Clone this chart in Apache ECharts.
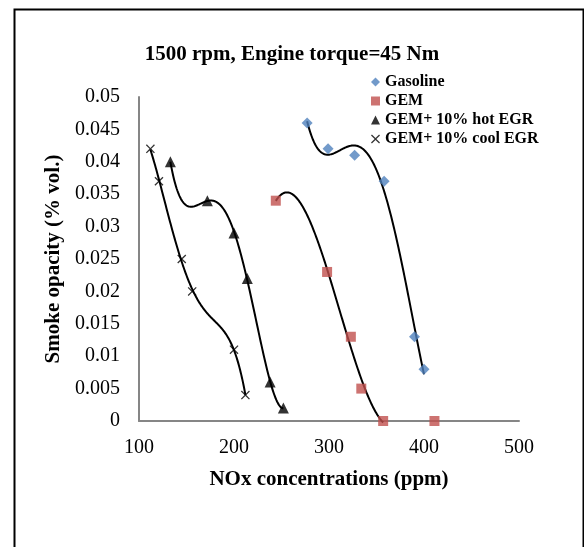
<!DOCTYPE html>
<html>
<head>
<meta charset="utf-8">
<style>html,body{margin:0;padding:0;background:#fff;}#c{width:584px;height:547px;}</style>
<script src="https://cdn.jsdelivr.net/npm/echarts@6/dist/echarts.min.js"></script>
</head>
<body>
<div id="c"></div>
<script>
// ---- data ----
const seriesNames = ['Gasoline', 'GEM', 'GEM+ 10% hot EGR', 'GEM+ 10% cool EGR'];
const gasolineX = [277, 299, 327, 358, 390, 400];
const gasolineY = [0.046, 0.042, 0.041, 0.037, 0.013, 0.008];
const gemX = [244, 298, 323, 334, 357, 411];
const gemY = [0.034, 0.023, 0.013, 0.005, 0, 0];
const hotX = [133, 172, 200, 214, 238, 252];
const hotY = [0.040, 0.034, 0.029, 0.022, 0.006, 0.002];
const coolX = [112, 121, 145, 156, 200, 212];
const coolY = [0.042, 0.037, 0.025, 0.020, 0.011, 0.004];
// polynomial trendlines (as in the source spreadsheet): points used and order
const trendPoints = [6, 5, 6, 6];
const trendOrder = [4, 3, 4, 4];
const titleText = '1500 rpm, Engine torque=45 Nm';
const xName = 'NOx concentrations (ppm)';
const yName = 'Smoke opacity (% vol.)';

const SERIF = '"Liberation Serif", "DejaVu Serif", serif';
const xs = [gasolineX, gemX, hotX, coolX];
const ys = [gasolineY, gemY, hotY, coolY];
const colors = ['#4F81BD', '#C0504D', '#000000', '#000000'];
const symbols = ['diamond', 'rect', 'triangle',
  'path://M0,1L1,0L5,4L9,0L10,1L6,5L10,9L9,10L5,6L1,10L0,9L4,5Z'];
const symbolSizes = [11, 10, 11, 9];

function polyFit(px, py, order) {
  const n = px.length;
  const lo = Math.min(...px), hi = Math.max(...px);
  const mx = (lo + hi) / 2, sx = (hi - lo) / 2 || 1;
  const m = order + 1;
  const A = [], b = [];
  for (let j = 0; j < m; j++) { A.push(new Array(m).fill(0)); b.push(0); }
  for (let i = 0; i < n; i++) {
    const u = (px[i] - mx) / sx;
    for (let j = 0; j < m; j++) {
      b[j] += py[i] * Math.pow(u, j);
      for (let k = 0; k < m; k++) A[j][k] += Math.pow(u, j + k);
    }
  }
  for (let c = 0; c < m; c++) {
    let p = c;
    for (let r = c + 1; r < m; r++) if (Math.abs(A[r][c]) > Math.abs(A[p][c])) p = r;
    [A[c], A[p]] = [A[p], A[c]]; [b[c], b[p]] = [b[p], b[c]];
    for (let r = c + 1; r < m; r++) {
      const f = A[r][c] / A[c][c];
      for (let k = c; k < m; k++) A[r][k] -= f * A[c][k];
      b[r] -= f * b[c];
    }
  }
  const coef = new Array(m).fill(0);
  for (let r = m - 1; r >= 0; r--) {
    let s = b[r];
    for (let k = r + 1; k < m; k++) s -= A[r][k] * coef[k];
    coef[r] = s / A[r][r];
  }
  return { lo, hi, f: x => { const u = (x - mx) / sx; let s = 0; for (let j = 0; j < m; j++) s += coef[j] * Math.pow(u, j); return s; } };
}

const series = [];
seriesNames.forEach((name, i) => {
  const tx = xs[i].slice(0, trendPoints[i]);
  const ty = ys[i].slice(0, trendPoints[i]);
  const fit = polyFit(tx, ty, trendOrder[i]);
  series.push({
    type: 'custom', name: name + ' trend', silent: true, z: 1,
    data: [[tx[0], ty[0]]],
    renderItem: (params, api) => {
      const pts = [];
      const N = 160;
      for (let k = 0; k <= N; k++) {
        const x = fit.lo + (fit.hi - fit.lo) * k / N;
        pts.push(api.coord([x, fit.f(x)]));
      }
      return { type: 'polyline', shape: { points: pts }, style: { stroke: '#000', lineWidth: 2, fill: null } };
    }
  });
});
seriesNames.forEach((name, i) => {
  series.push({
    type: 'scatter', name: name, z: 3,
    symbol: symbols[i], symbolSize: symbolSizes[i],
    itemStyle: { color: colors[i] },
    data: xs[i].map((x, k) => [x, ys[i][k]])
  });
});

const chart = echarts.init(document.getElementById('c'), null, { renderer: 'canvas' });
chart.setOption({
  animation: false,
  backgroundColor: '#fff',
  graphic: [{
    type: 'rect', left: 12, top: 7, silent: true,
    shape: { x: 0, y: 0, width: 569, height: 560 },
    style: { fill: null, stroke: '#000', lineWidth: 2 }
  }],
  title: {
    text: titleText, left: 'center', top: 39,
    textStyle: { fontFamily: SERIF, fontSize: 21, fontWeight: 'bold', color: '#000' }
  },
  legend: {
    data: seriesNames, orient: 'vertical', left: 366, top: 69,
    itemWidth: 9, itemHeight: 9, itemGap: 3,
    textStyle: { fontFamily: SERIF, fontSize: 16, fontWeight: 'bold', color: '#000', lineHeight: 16 }
  },
  grid: { left: 139, right: 65, top: 97, bottom: 126, containLabel: false },
  xAxis: {
    type: 'value', min: 100, max: 500, interval: 100,
    name: xName, nameLocation: 'middle', nameGap: 48,
    nameTextStyle: { fontFamily: SERIF, fontSize: 21, fontWeight: 'bold', color: '#000' },
    axisLine: { show: true, lineStyle: { color: '#868686', width: 2 } },
    axisTick: { show: false }, splitLine: { show: false },
    axisLabel: { fontFamily: SERIF, fontSize: 20, color: '#000', margin: 17 }
  },
  yAxis: {
    type: 'value', min: 0, max: 0.05, interval: 0.005,
    name: yName, nameLocation: 'middle', nameGap: 68,
    nameTextStyle: { fontFamily: SERIF, fontSize: 21, fontWeight: 'bold', color: '#000' },
    axisLine: { show: true, lineStyle: { color: '#868686', width: 2 } },
    axisTick: { show: false }, splitLine: { show: false },
    axisLabel: { fontFamily: SERIF, fontSize: 20, color: '#000', margin: 19,
      formatter: v => String(+v.toFixed(3)) }
  },
  series: series
});
</script>
</body>
</html>
